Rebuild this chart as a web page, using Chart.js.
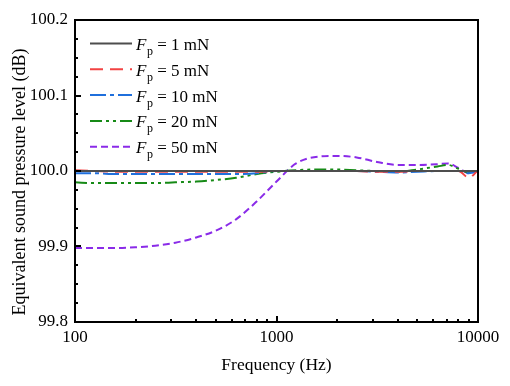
<!DOCTYPE html>
<html>
<head>
<meta charset="utf-8">
<script src="https://cdn.jsdelivr.net/npm/chart.js@4/dist/chart.umd.min.js"></script>
<style>
  html, body { margin: 0; padding: 0; background: #fff; }
  #wrap { width: 510px; height: 386px; }
</style>
</head>
<body>
<div id="wrap"><canvas id="spl" width="510" height="386"></canvas></div>
<script>
// frequency grid (Hz) and equivalent SPL (dB) for each preload force
const frequencies = [100, 125, 160, 200, 250, 315, 400, 500, 630, 800, 1000, 1250, 1600, 2000, 2500, 3150, 4000, 5000, 6300, 7100, 8000, 9000, 10000];
const fp1mN  = [100.000, 100.000, 100.000, 100.000, 100.000, 100.000, 100.000, 100.000, 100.000, 100.000, 100.000, 100.000, 100.000, 100.000, 100.000, 100.000, 100.000, 100.000, 100.000, 100.000, 100.000, 100.000, 100.000];
const fp5mN  = [100.001, 100.000, 99.999, 99.999, 99.999, 99.999, 99.999, 99.999, 99.999, 99.999, 100.000, 100.000, 100.000, 100.000, 100.000, 99.999, 99.999, 100.000, 100.000, 100.000, 100.000, 99.991, 100.001];
const fp10mN = [99.997, 99.997, 99.996, 99.996, 99.996, 99.996, 99.996, 99.996, 99.996, 99.997, 100.000, 100.000, 100.000, 100.000, 100.000, 99.999, 99.998, 99.999, 100.000, 100.000, 100.000, 99.997, 100.000];
const fp20mN = [99.985, 99.984, 99.984, 99.984, 99.984, 99.985, 99.986, 99.988, 99.991, 99.996, 99.999, 100.001, 100.002, 100.002, 100.001, 100.000, 99.999, 100.002, 100.006, 100.008, 100.003, 99.998, 100.000];
const fp50mN = [99.898, 99.898, 99.898, 99.899, 99.901, 99.905, 99.912, 99.921, 99.936, 99.960, 99.986, 100.010, 100.019, 100.020, 100.018, 100.012, 100.008, 100.008, 100.009, 100.010, 100.004, 99.997, 100.000];

const seriesNames = ['1 mN', '5 mN', '10 mN', '20 mN', '50 mN'];
const seriesValues = [fp1mN, fp5mN, fp10mN, fp20mN, fp50mN];
const seriesColors = ['#4d4d4d', '#f24343', '#1f6fdc', '#168a16', '#8a2be8'];
const seriesDashes = [[], [13, 7], [16, 4, 4, 4], [12, 4, 3, 4, 3, 4], [7, 4]];

const xTickLabels = [100, 1000, 10000];
const yTickLabels = [99.8, 99.9, 100.0, 100.1, 100.2];
const yTitle = 'Equivalent sound pressure level (dB)';

const FONT = '"Liberation Serif", "Times New Roman", serif';

const datasets = seriesValues.map((vals, i) => ({
  label: seriesNames[i],
  data: frequencies.map((f, j) => ({ x: f, y: vals[j] })),
  borderColor: seriesColors[i],
  borderDash: seriesDashes[i],
  borderWidth: 2,
  pointRadius: 0,
  fill: false,
  cubicInterpolationMode: 'monotone'
}));

// box frame, inward ticks, y title and the F_p legend
const frameAndLegend = {
  id: 'frameAndLegend',
  afterDraw(chart) {
    const { ctx, chartArea: a, scales: { x, y } } = chart;
    ctx.save();
    ctx.strokeStyle = '#000';
    ctx.lineWidth = 2;
    ctx.strokeRect(a.left, a.top, a.right - a.left, a.bottom - a.top);

    ctx.beginPath();
    x.ticks.forEach(t => {
      const px = Math.round(x.getPixelForValue(t.value));
      const len = xTickLabels.includes(t.value) ? 6 : 3;
      ctx.moveTo(px, a.bottom);
      ctx.lineTo(px, a.bottom - len);
    });
    y.ticks.forEach(t => {
      const py = Math.round(y.getPixelForValue(t.value));
      const major = yTickLabels.some(v => Math.abs(v - t.value) < 1e-6);
      ctx.moveTo(a.left, py);
      ctx.lineTo(a.left + (major ? 6 : 3), py);
    });
    ctx.stroke();

    // y axis title (sits a bit below the plot centre in the original)
    ctx.save();
    ctx.translate(20, 182);
    ctx.rotate(-Math.PI / 2);
    ctx.fillStyle = '#000';
    ctx.font = '18px ' + FONT;
    ctx.textAlign = 'center';
    ctx.textBaseline = 'middle';
    ctx.fillText(yTitle, 0, 0);
    ctx.restore();

    // legend
    seriesNames.forEach((name, i) => {
      const ly = 43.5 + i * 25.8;
      ctx.beginPath();
      ctx.strokeStyle = seriesColors[i];
      ctx.lineWidth = 2;
      ctx.setLineDash(seriesDashes[i]);
      ctx.moveTo(90, ly);
      ctx.lineTo(132, ly);
      ctx.stroke();
      ctx.setLineDash([]);

      const base = ly + 6.5;
      let tx = 136;
      ctx.fillStyle = '#000';
      ctx.textBaseline = 'alphabetic';
      ctx.textAlign = 'left';
      ctx.font = 'italic 17px ' + FONT;
      ctx.fillText('F', tx, base);
      tx += ctx.measureText('F').width + 0.5;
      ctx.font = '12px ' + FONT;
      ctx.fillText('p', tx, base + 5);
      tx += ctx.measureText('p').width;
      ctx.font = '17px ' + FONT;
      ctx.fillText(' = ' + name, tx, base);
    });
    ctx.restore();
  }
};

new Chart(document.getElementById('spl').getContext('2d'), {
  type: 'line',
  data: { datasets },
  plugins: [frameAndLegend],
  options: {
    responsive: false,
    animation: false,
    devicePixelRatio: 1,
    layout: { padding: { top: 20, right: 32, left: 0, bottom: 0 } },
    plugins: { legend: { display: false }, tooltip: { enabled: false } },
    scales: {
      x: {
        type: 'logarithmic',
        min: 100,
        max: 10000,
        grid: { display: false, drawTicks: false },
        border: { display: false },
        afterBuildTicks: s => {
          const ticks = [];
          [100, 1000].forEach(d => { for (let m = 1; m < 10; m++) ticks.push({ value: d * m }); });
          ticks.push({ value: 10000 });
          s.ticks = ticks;
        },
        afterFit: s => { s.height = 64; },
        ticks: {
          autoSkip: false,
          maxRotation: 0,
          padding: 5,
          color: '#000',
          font: { family: FONT, size: 17 },
          callback: v => xTickLabels.includes(v) ? String(v) : ''
        },
        title: {
          display: true,
          text: 'Frequency (Hz)',
          color: '#000',
          font: { family: FONT, size: 17.5 },
          padding: { top: 0, bottom: 10 }
        }
      },
      y: {
        min: 99.8,
        max: 100.2,
        grid: { display: false, drawTicks: false },
        border: { display: false },
        afterBuildTicks: s => {
          const ticks = [];
          for (let i = 0; i < yTickLabels.length; i++) {
            ticks.push({ value: yTickLabels[i] });
            if (i < yTickLabels.length - 1) {
              for (let k = 1; k < 4; k++) ticks.push({ value: +(yTickLabels[i] + k * 0.025).toFixed(3) });
            }
          }
          s.ticks = ticks;
        },
        afterFit: s => { s.width = 75; },
        ticks: {
          autoSkip: false,
          padding: 7,
          color: '#000',
          font: { family: FONT, size: 17 },
          callback: v => yTickLabels.some(t => Math.abs(t - v) < 1e-6) ? v.toFixed(1) : ''
        },
        title: { display: false }
      }
    }
  }
});
</script>
</body>
</html>
